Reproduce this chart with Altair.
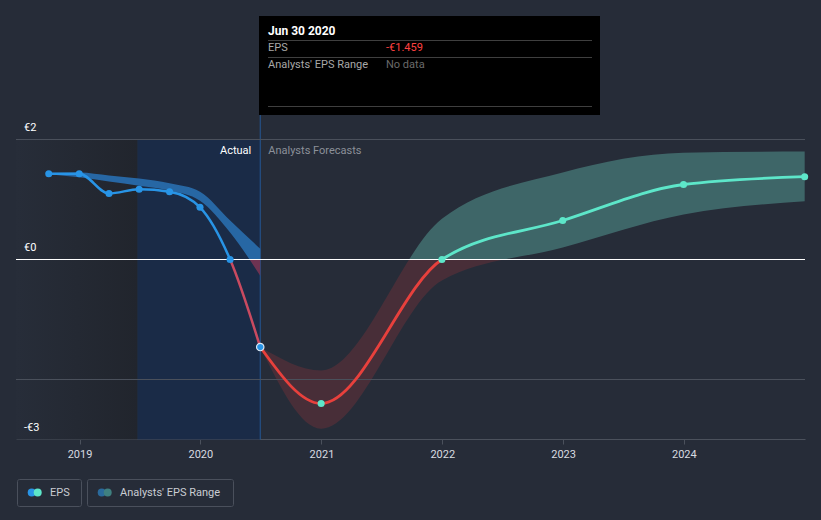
import altair as alt
import pandas as pd

# ---------------- data ----------------
actual_dates = ["2018-09-30", "2018-12-31", "2019-03-31", "2019-06-30",
                "2019-09-30", "2019-12-31", "2020-03-31", "2020-06-30"]
actual_eps = [1.43, 1.43, 1.10, 1.17, 1.13, 0.87, 0.00, -1.459]
actual_low = [1.42, 1.37, 1.30, 1.23, 1.15, 0.98, 0.45, -0.27]
actual_high = [1.44, 1.45, 1.40, 1.35, 1.27, 1.13, 0.65, 0.18]

fc_dates = ["2020-06-30", "2020-12-31", "2021-12-31", "2022-12-31",
            "2023-12-31", "2024-12-31"]
fc_eps = [-1.459, -2.40, 0.00, 0.65, 1.25, 1.38]
fc_low = [-1.459, -2.82, -0.35, 0.20, 0.75, 0.97]
fc_high = [-1.459, -1.85, 0.68, 1.45, 1.78, 1.80]

y_tick_values = [2, 0, -3]
y_tick_labels = ["€2", "€0", "-€3"]
grid_values = [2, -2]
x_tick_years = [2019, 2020, 2021, 2022, 2023, 2024]

shade_start = ["2018-06-23", "2019-06-25"]
shade_end = ["2019-06-25", "2020-06-30"]
today = "2020-06-30"

legend_labels = ["EPS", "Analysts' EPS Range"]
tooltip_title = "Jun 30 2020"
tooltip_rows = ["EPS", "Analysts' EPS Range"]
tooltip_values = ["-€1.459", "No data"]

# ---------------- styling ----------------
BG = "#262c38"
BLUE = "#2894e6"
CYAN = "#5de6c9"
RED = "#e8403c"
GRID = "#4a505b"
FONT = "Roboto"

actual_df = pd.DataFrame({"date": actual_dates, "eps": actual_eps,
                          "low": actual_low, "high": actual_high})
fc_df = pd.DataFrame({"date": fc_dates, "eps": fc_eps,
                      "low": fc_low, "high": fc_high})

xscale = alt.Scale(type="utc",
                   domain=[alt.DateTime(year=2018, month=6, date=23, utc=True),
                           alt.DateTime(year=2025, month=1, date=1, utc=True)])
yscale = alt.Scale(domain=[-3, 4.0667], nice=False, zero=False, range=[424.5, 0.5])

xaxis = alt.Axis(values=[alt.DateTime(year=y, month=1, date=1, utc=True) for y in x_tick_years],
                 format="%Y", labelColor="#d8dbe0", labelFontSize=11, labelFont=FONT,
                 domainColor="#4b515c", tickColor="#4b515c", tickSize=5, grid=False,
                 title=None, labelPadding=4)


def X(field):
    return alt.X(field, scale=xscale, axis=xaxis)


def Y(field, **kw):
    return alt.Y(field, scale=yscale, axis=None, **kw)


def split_gradient(top_val, bottom_val, c_pos, c_neg):
    z = top_val / (top_val - bottom_val)
    z = min(max(z, 0.0), 1.0)
    return alt.Gradient(gradient="linear", x1=0, y1=0, x2=0, y2=1, stops=[
        alt.GradientStop(color=c_pos, offset=0),
        alt.GradientStop(color=c_pos, offset=z),
        alt.GradientStop(color=c_neg, offset=z),
        alt.GradientStop(color=c_neg, offset=1),
    ])


one = pd.DataFrame({"k": [0]})

# background shading
shade_df = pd.DataFrame({"start": shade_start, "end": shade_end})
dark_rect = alt.Chart(shade_df.iloc[[0]]).mark_rect(
    fill=alt.Gradient(gradient="linear", x1=0, y1=0, x2=1, y2=0, stops=[
        alt.GradientStop(color="#272d39", offset=0),
        alt.GradientStop(color="#21252d", offset=1)])
).encode(x=X("start:T"), x2="end:T", y=alt.Y(datum=2, scale=yscale, axis=None),
         y2=alt.datum(-3))
blue_rect = alt.Chart(shade_df.iloc[[1]]).mark_rect(fill="#1a2b47").encode(
    x=X("start:T"), x2="end:T", y=alt.Y(datum=2, scale=yscale, axis=None),
    y2=alt.datum(-3))

today_df = pd.DataFrame({"date": [today]})
today_rule = alt.Chart(today_df).mark_rule(color="#245896", strokeWidth=1).encode(
    x=X("date:T"), y=alt.Y(datum=-3, scale=yscale, axis=None), y2=alt.value(100))

actual_txt = alt.Chart(today_df).mark_text(
    text="Actual", align="right", baseline="middle", dx=-9, font=FONT,
    fontSize=11, color="#ffffff").encode(x=X("date:T"), y=alt.value(136))
fc_txt = alt.Chart(today_df).mark_text(
    text="Analysts Forecasts", align="left", baseline="middle", dx=8, font=FONT,
    fontSize=11, color="#8b9099").encode(x=X("date:T"), y=alt.value(136))

# bands
actual_band = alt.Chart(actual_df).mark_area(
    interpolate="monotone",
    fill=split_gradient(max(actual_high), min(actual_low), "#2767a4", "#6e3352")
).encode(x=X("date:T"), y=Y("low:Q"), y2="high:Q")

fc_band = alt.Chart(fc_df).mark_area(
    interpolate="monotone",
    fill=split_gradient(max(fc_high), min(fc_low), "#3e6668", "#482e38")
).encode(x=X("date:T"), y=Y("low:Q"), y2="high:Q")

# grid lines
grid_df = pd.DataFrame({"v": grid_values})
grid = alt.Chart(grid_df).mark_rule(color=GRID, strokeWidth=1).encode(y=Y("v:Q"))
zero_df = pd.DataFrame({"v": [0]})
zero = alt.Chart(zero_df).mark_rule(color="#ffffff", strokeWidth=1).encode(y=Y("v:Q"))

ylab_df = pd.DataFrame({"v": y_tick_values, "t": y_tick_labels})
ylabels = alt.Chart(ylab_df).mark_text(
    align="left", baseline="middle", dy=-12, font=FONT, fontSize=11,
    color="#ffffff").encode(x=alt.value(8), y=Y("v:Q"), text="t:N")

# lines
actual_line = alt.Chart(actual_df).mark_line(
    interpolate="monotone", strokeWidth=2.5,
    stroke=split_gradient(max(actual_eps), min(actual_eps), BLUE, "#c94a60")
).encode(x=X("date:T"), y=Y("eps:Q"))

fc_line = alt.Chart(fc_df).mark_line(
    interpolate="monotone", strokeWidth=2.8,
    stroke=split_gradient(max(fc_eps), min(fc_eps), CYAN, RED)
).encode(x=X("date:T"), y=Y("eps:Q"))

actual_pts = alt.Chart(actual_df.iloc[:-1]).mark_circle(size=50, color=BLUE, opacity=1).encode(
    x=X("date:T"), y=Y("eps:Q"))
fc_pts = alt.Chart(fc_df.iloc[1:]).mark_circle(size=50, color=CYAN, opacity=1).encode(
    x=X("date:T"), y=Y("eps:Q"))
hover_pt = alt.Chart(actual_df.iloc[[-1]]).mark_point(
    size=55, filled=True, fill=BLUE, stroke="#dfe8f2", strokeWidth=1.2, opacity=1).encode(
    x=X("date:T"), y=Y("eps:Q"))

# tooltip box
tip_box = alt.Chart(one).mark_rect(fill="#000000").encode(
    x=alt.value(243), x2=alt.value(584), y=alt.value(1), y2=alt.value(100))
tip_title = alt.Chart(one).mark_text(
    text=tooltip_title, align="left", baseline="middle", font=FONT, fontSize=12,
    fontWeight="bold", color="#ffffff").encode(x=alt.value(252), y=alt.value(16))
sep_df = pd.DataFrame({"y": [25.5, 42.5, 91.5]})
tip_seps = alt.Chart(sep_df).mark_rule(color="#3f3f3f", strokeWidth=1).encode(
    x=alt.value(252), x2=alt.value(576), y=alt.Y("y:Q", scale=None, axis=None))
row_df = pd.DataFrame({"label": tooltip_rows, "val": tooltip_values,
                       "y": [33, 50], "c": ["#ff4040", "#6a6a6a"]})
tip_labels = alt.Chart(row_df).mark_text(
    align="left", baseline="middle", font=FONT, fontSize=11, color="#a8a8a8").encode(
    x=alt.value(252), y=alt.Y("y:Q", scale=None, axis=None), text="label:N")
tip_vals = alt.Chart(row_df).mark_text(
    align="left", baseline="middle", font=FONT, fontSize=11).encode(
    x=alt.value(370), y=alt.Y("y:Q", scale=None, axis=None), text="val:N",
    color=alt.Color("c:N", scale=None))

# legend
leg_box_df = pd.DataFrame({"x": [1.5, 71.5], "x2": [65.5, 217.5]})
leg_boxes = alt.Chart(leg_box_df).mark_rect(
    fill=BG, stroke="#4a505c", strokeWidth=1, cornerRadius=2).encode(
    x=alt.X("x:Q", scale=None, axis=None), x2="x2:Q",
    y=alt.value(464.5), y2=alt.value(491.5))
leg_dot_df = pd.DataFrame({"x": [15.7, 21.7, 85.7, 91.7],
                           "c": [BLUE, CYAN, "#2a6a9c", "#3f8080"]})
leg_dots = alt.Chart(leg_dot_df).mark_circle(size=64, opacity=1).encode(
    x=alt.X("x:Q", scale=None, axis=None), y=alt.value(477.5),
    color=alt.Color("c:N", scale=None))
leg_txt_df = pd.DataFrame({"x": [34, 104], "t": legend_labels})
leg_txt = alt.Chart(leg_txt_df).mark_text(
    align="left", baseline="middle", font=FONT, fontSize=11, color="#c9cdd3").encode(
    x=alt.X("x:Q", scale=None, axis=None), y=alt.value(477.5), text="t:N")

chart = alt.layer(
    dark_rect, blue_rect, today_rule, actual_band, fc_band, grid, zero,
    actual_line, fc_line, actual_pts, fc_pts, hover_pt, actual_txt, fc_txt, ylabels,
    tip_box, tip_seps, tip_title, tip_labels, tip_vals,
    leg_boxes, leg_dots, leg_txt
).properties(
    width=789, height=424,
    padding={"left": 16, "top": 15, "right": 16, "bottom": 81},
    autosize=alt.AutoSizeParams(type="none"),
    background=BG,
).configure_view(stroke=None)

chart.save("out.html", embed_options={"renderer": "svg", "actions": False})
